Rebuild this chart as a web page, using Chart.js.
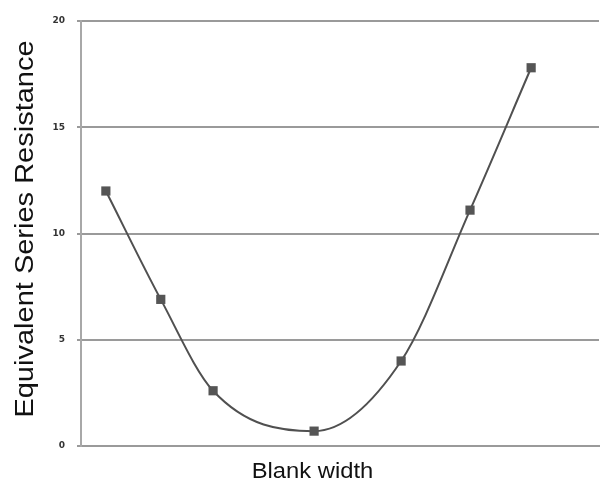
<!DOCTYPE html>
<html>
<head>
<meta charset="utf-8">
<script src="https://cdn.jsdelivr.net/npm/chart.js@4"></script>
<style>
html,body{margin:0;padding:0;background:#fff;}
#wrap{width:600px;height:482px;position:relative;}
</style>
</head>
<body>
<div id="wrap"><canvas id="c" width="600" height="482"></canvas></div>
<script>
const blankWidth = [4.8, 15.4, 25.5, 45.0, 61.8, 75.1, 86.9];
const esrValues = [12.0, 6.9, 2.6, 0.7, 4.0, 11.1, 17.8];
const yTicks = [0, 5, 10, 15, 20];
const yTitle = 'Equivalent Series Resistance';
const xTitle = 'Blank width';

const points = blankWidth.map((x, i) => ({x: x, y: esrValues[i]}));

const titlePlugin = {
  id: 'titlePlugin',
  afterDraw(chart) {
    const ctx = chart.ctx;
    ctx.save();
    ctx.fillStyle = '#111';
    ctx.textAlign = 'center';
    ctx.textBaseline = 'alphabetic';
    // x title
    ctx.save();
    ctx.translate(312.5, 478);
    ctx.scale(1.08, 1);
    ctx.font = '22px "Liberation Sans", Arial, sans-serif';
    ctx.fillText(xTitle, 0, 0);
    ctx.restore();
    // y title
    ctx.save();
    ctx.translate(33, 229);
    ctx.rotate(-Math.PI / 2);
    ctx.scale(1.16, 1);
    ctx.font = '25px "Liberation Sans", Arial, sans-serif';
    ctx.fillText(yTitle, 0, 0);
    ctx.restore();
    ctx.restore();
  }
};

new Chart(document.getElementById('c'), {
  type: 'scatter',
  data: {
    datasets: [{
      data: points,
      showLine: true,
      cubicInterpolationMode: 'monotone',
      borderColor: '#505050',
      borderWidth: 2,
      backgroundColor: '#555',
      pointStyle: 'rect',
      pointRadius: 6.5,
      pointBackgroundColor: '#555',
      pointBorderWidth: 0
    }]
  },
  options: {
    responsive: false,
    animation: false,
    devicePixelRatio: 1,
    layout: {autoPadding: false, padding: {top: 21, right: 1, bottom: 0, left: 0}},
    plugins: {legend: {display: false}, tooltip: {enabled: false}},
    scales: {
      x: {
        type: 'linear',
        min: 0, max: 100,
        ticks: {display: false},
        grid: {display: false, drawTicks: false},
        border: {display: true, color: '#9a9a9a', width: 2},
        afterFit(scale) { scale.height = 36; }
      },
      y: {
        min: 0, max: 20,
        afterBuildTicks(scale) { scale.ticks = yTicks.map(v => ({value: v})); },
        ticks: {
          padding: 12,
          color: '#333',
          font: {family: '"DejaVu Sans", sans-serif', size: 9, weight: 'bold'}
        },
        grid: {
          color: '#9a9a9a',
          lineWidth: 2,
          tickLength: 4,
          drawTicks: true
        },
        border: {display: true, color: '#a8a8a8', width: 2},
        afterFit(scale) { scale.width = 81; }
      }
    }
  },
  plugins: [titlePlugin]
});
</script>
</body>
</html>
